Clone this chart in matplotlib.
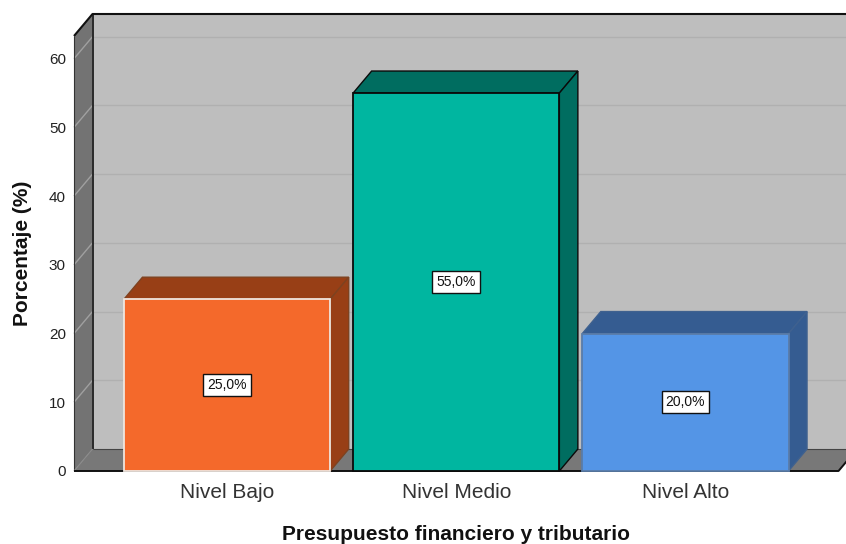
import matplotlib
matplotlib.use("Agg")
import matplotlib.pyplot as plt
from matplotlib.patches import Polygon, Rectangle

plt.rcParams['font.family'] = ['Liberation Sans', 'DejaVu Sans']

categories = ['Nivel Bajo', 'Nivel Medio', 'Nivel Alto']
values = [25.0, 55.0, 20.0]
labels = ['25,0%', '55,0%', '20,0%']
yticks = [0, 10, 20, 30, 40, 50, 60]
front_colors = ['#F4692B', '#00B6A0', '#5495E6']
top_colors = ['#983F16', '#006D60', '#355C91']
edge_colors = ['#EFE6DF', '#0A0A0A', '#5A7CA8']
outer_edges = ['#7E4220', '#0A0A0A', '#3F618F']

W, H = 846, 544
X0, X1, YB, YT = 74, 838.5, 471, 36
fig = plt.figure(figsize=(W / 100, H / 100), dpi=100, facecolor='white')
ax = fig.add_axes([X0 / W, 1 - YB / H, (X1 - X0) / W, (YB - YT) / H])
xmin, xmax, ymax = -0.668, 2.668, 63.3
ax.set_xlim(xmin, xmax)
ax.set_ylim(0, ymax)
for s in ax.spines.values():
    s.set_visible(False)
ax.patch.set_visible(False)

# depth of the pseudo-3D box, in data units
dx = 18.5 * (xmax - xmin) / (X1 - X0)
dy = 22 * ymax / (YB - YT)
bar_w = 0.9


def poly(pts, fc, ec='none', lw=0, z=1):
    ax.add_patch(Polygon(pts, closed=True, facecolor=fc, edgecolor=ec, linewidth=lw,
                         zorder=z, clip_on=False, joinstyle='miter'))


def line(xs, ys, color='#111111', lw=1.3, z=2):
    ax.plot(xs, ys, color=color, lw=lw, zorder=z, clip_on=False, solid_capstyle='butt')


# back wall, left wall, floor
poly([(xmin + dx, dy), (xmax + dx, dy), (xmax + dx, ymax + dy), (xmin + dx, ymax + dy)], '#BEBEBE')
poly([(xmin, 0), (xmin + dx, dy), (xmin + dx, ymax + dy), (xmin, ymax)], '#737373')
poly([(xmin, 0), (xmax, 0), (xmax + dx, dy), (xmin + dx, dy)], '#787878')

# grid lines
for t in yticks[1:]:
    line([xmin + dx, xmax + dx], [t + dy, t + dy], '#B0B0B0', 1.0, 1.5)
    line([xmin, xmin + dx], [t, t + dy], '#A0A0A0', 1.0, 1.5)

# box outline
line([xmin, xmin + dx, xmax + dx], [ymax, ymax + dy, ymax + dy], '#111111', 1.5)
line([xmin + dx, xmin + dx], [dy, ymax + dy], '#111111', 1.2)
line([xmin, xmin], [0, ymax], '#333333', 0.8)
line([xmin + dx, xmax + dx], [dy, dy], '#444444', 0.8)
line([xmin, xmin + dx], [0, dy], '#8A8A8A', 0.8)
line([xmin, xmax, xmax + dx], [0, 0, dy], '#111111', 1.4)

# bars
for i, v in enumerate(values):
    l, r = i - bar_w / 2, i + bar_w / 2
    poly([(l, v), (r, v), (r + dx, v + dy), (l + dx, v + dy)], top_colors[i], outer_edges[i], 1.0, 3)
    poly([(r, 0), (r + dx, dy), (r + dx, v + dy), (r, v)], top_colors[i], outer_edges[i], 1.0, 3)
    ax.add_patch(Rectangle((l, 0), bar_w, v, facecolor=front_colors[i], edgecolor=edge_colors[i],
                           linewidth=1.3, zorder=4, clip_on=False))
    ax.text(i, v / 2, labels[i], ha='center', va='center', fontsize=10, color='#111111', zorder=6,
            bbox=dict(boxstyle='square,pad=0.3', facecolor='white', edgecolor='#111111', linewidth=1.0))

ax.set_xticks(range(len(categories)))
ax.set_xticklabels(categories, fontsize=15, color='#333333')
ax.set_yticks(yticks)
ax.tick_params(axis='y', length=0, pad=5.8, labelsize=11, labelcolor='#222222')
ax.tick_params(axis='x', length=0, pad=8.5)

fig.text(456 / W, 1 - 535 / H, 'Presupuesto financiero y tributario', ha='center', va='center',
         fontsize=15, fontweight='bold', color='#111111')
fig.text(23 / W, 1 - 253 / H, 'Porcentaje (%)', ha='center', va='center', rotation=90,
         fontsize=15, fontweight='bold', color='#111111')

fig.savefig('out.png', dpi=100)
